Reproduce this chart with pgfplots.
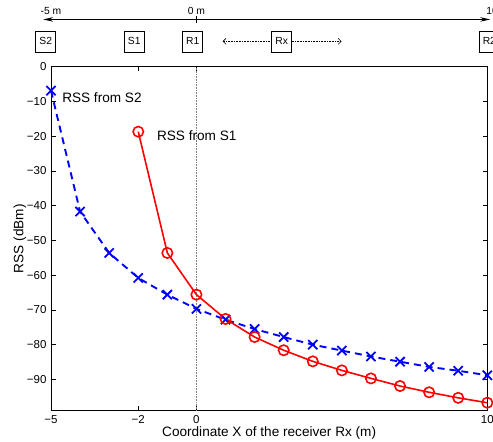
\documentclass[border=0pt]{standalone}
\usepackage{fontspec}
\setmainfont{Liberation Sans}
\usepackage{pgfplots}
\pgfplotsset{compat=1.18}
\usetikzlibrary{arrows.meta}
\definecolor{rssblue}{HTML}{0000FF}
\definecolor{rssred}{HTML}{FF0000}
\newcommand{\TickFont}{\fontsize{11.5}{13}\selectfont}
\newcommand{\LabelFont}{\fontsize{13.6}{15}\selectfont}
\newcommand{\SmallFont}{\fontsize{10.3}{11}\selectfont}
\tikzset{scenebox/.style={draw, line width=0.6pt, fill=white, font=\SmallFont,
  minimum width=20pt, minimum height=21pt, inner sep=0pt}}

\begin{document}
\begin{tikzpicture}
\clip (-51pt,-31.3pt) rectangle (442pt,410.7pt);
\useasboundingbox (-51pt,-31.3pt) rectangle (442pt,410.7pt);
\begin{axis}[
  scale only axis,
  width=436.3pt, height=344pt,
  at={(0pt,0pt)}, anchor=south west,
  xmin=-5, xmax=10, ymin=-99, ymax=0,
  xtick={-5,-2,0,10},
  xticklabels={−5,−2,0,10},
  ytick={-90,-80,...,0},
  yticklabels={−90,−80,−70,−60,−50,−40,−30,−20,−10,0},
  tick align=inside,
  major tick length=4.5pt,
  tick style={black, line width=0.6pt},
  axis line style={line width=0.8pt},
  tick label style={font=\TickFont},
  xticklabel style={yshift=-1pt},
  yticklabel style={xshift=-1pt},
  xlabel={Coordinate X of the receiver Rx (m)},
  ylabel={RSS (dBm)},
  label style={font=\LabelFont},
  xlabel style={yshift=4pt},
  ylabel style={yshift=-6pt},
  clip=false,
]
\draw[densely dotted, gray, line width=0.6pt] (axis cs:0,-99) -- (axis cs:0,0);

\addplot[rssblue, line width=1.9pt, dash pattern=on 7pt off 5pt,
  mark=x, mark size=6.5pt, mark options={solid, line width=1.8pt}]
  coordinates {
  (-5,-6.9) (-4,-41.7) (-3,-53.6) (-2,-60.8) (-1,-65.6) (0,-69.7)
  (1,-72.8) (2,-75.5) (3,-77.8) (4,-80.0) (5,-81.7) (6,-83.4)
  (7,-84.9) (8,-86.4) (9,-87.5) (10,-88.8)
};
\addplot[rssred, line width=1.6pt,
  mark=o, mark size=5.2pt, mark options={solid, line width=1.6pt}]
  coordinates {
  (-2,-18.7) (-1,-53.6) (0,-65.6) (1,-72.6) (2,-77.8) (3,-81.6)
  (4,-84.8) (5,-87.4) (6,-89.7) (7,-91.9) (8,-93.7) (9,-95.3) (10,-96.7)
};

\node[anchor=west, font=\LabelFont, inner sep=0pt] at (axis cs:-4.62,-8.8) {RSS from S2};
\node[anchor=west, font=\LabelFont, inner sep=0pt] at (axis cs:-1.36,-19.9) {RSS from S1};

% scene sketch above the plot
\draw[line width=0.9pt, {Stealth[length=10pt,width=4.5pt]}-{Stealth[length=10pt,width=4.5pt]}]
  (axis cs:-5.27,13.6) -- (axis cs:10.1,13.6);
\draw[line width=0.8pt] (axis cs:0,12.6) -- (axis cs:0,14.6);
\node[font=\SmallFont] at (axis cs:-5,15.9) {-5 m};
\node[font=\SmallFont] at (axis cs:0,15.9) {0 m};
\node[font=\SmallFont, anchor=west] at (axis cs:9.85,15.9) {10 m};
\node[scenebox] at (axis cs:-5.18,7.3) {S2};
\node[scenebox] at (axis cs:-2.14,7.3) {S1};
\node[scenebox] at (axis cs:-0.13,7.3) {R1};
\node[scenebox] at (axis cs:2.93,7.3) {Rx};
\node[scenebox] at (axis cs:10.07,7.3) {R2};
\draw[densely dotted, line width=0.6pt, -{Straight Barb[length=3pt]}]
  (axis cs:2.58,7.3) -- (axis cs:0.90,7.3);
\draw[densely dotted, line width=0.6pt, -{Straight Barb[length=3pt]}]
  (axis cs:3.28,7.3) -- (axis cs:4.99,7.3);
\end{axis}
\end{tikzpicture}
\end{document}
